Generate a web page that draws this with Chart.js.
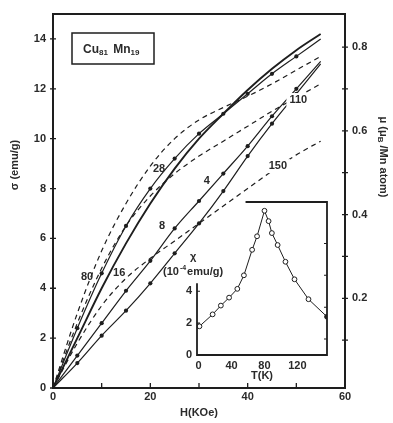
<!DOCTYPE html>
<html>
<head>
<meta charset="utf-8">
<script src="https://cdn.jsdelivr.net/npm/chart.js@4.4.0/dist/chart.umd.min.js"></script>
<style>
  html, body { margin: 0; padding: 0; background: #ffffff; }
  #wrap { position: relative; width: 393px; height: 423px; background: #ffffff; }
  #main { position: absolute; left: 0; top: 0; }
  #inset { position: absolute; left: 150px; top: 180px; }
</style>
</head>
<body>
<div id="wrap">
  <canvas id="main" width="393" height="423"></canvas>
  <canvas id="inset" width="200" height="210"></canvas>
</div>
<script>
// Magnetisation of Cu81Mn19 versus applied field, one curve per temperature
const fieldKOe   = [0, 5, 10, 15, 20, 25, 30, 35, 40, 45, 50, 55];
const sigma4K    = [0, 1.0, 2.1, 3.1, 4.2, 5.4, 6.6, 7.9, 9.3, 10.6, 11.8, 13.0];
const sigma8K    = [0, 1.3, 2.6, 3.9, 5.1, 6.4, 7.5, 8.6, 9.7, 10.9, 12.0, 13.1];
const sigma16K   = [0, 2.0, 4.0, 5.8, 7.4, 8.8, 10.0, 11.0, 11.95, 12.8, 13.55, 14.2];
const sigma28K   = [0, 2.4, 4.6, 6.5, 8.0, 9.2, 10.2, 11.0, 11.8, 12.6, 13.3, 14.0];
const sigma80K   = [0, 3.0, 5.5, 7.4, 8.9, 10.0, 10.75, 11.25, 11.7, 12.2, 12.75, 13.3];
const sigma110K  = [0, 2.6, 4.8, 6.5, 7.7, 8.6, 9.3, 9.9, 10.5, 11.1, 11.65, 12.2];
const sigma150K  = [0, 1.8, 3.3, 4.4, 5.2, 5.9, 6.6, 7.3, 8.0, 8.7, 9.35, 9.9];

// Low-field susceptibility versus temperature (inset)
const tempK      = [1, 17, 27, 37, 47, 55, 65, 71, 80, 85, 89, 96, 105.5, 116.5, 133.5, 156];
const chiValues  = [1.8, 2.55, 3.1, 3.6, 4.15, 5.0, 6.6, 7.45, 9.05, 8.4, 7.65, 6.9, 5.85, 4.75, 3.5, 2.4];

// Tick values and labels
const fieldTicks      = [0, 10, 20, 30, 40, 50, 60];
const fieldTickLabels = [0, 20, 40, 60];
const sigmaTicks      = [0, 2, 4, 6, 8, 10, 12, 14];
const momentTicks     = [0.1, 0.2, 0.3, 0.4, 0.5, 0.6, 0.7, 0.8];
const momentLabels    = [0.2, 0.4, 0.6, 0.8];
const insetTempTicks  = [0, 40, 80, 120];
const insetChiTicks   = [0, 2, 4];

// Temperature tags written next to (or across) the curves, in field kOe / sigma emu/g
const curveTags = [
  { text: '80',  h: 7.0,  s: 4.45, knockout: false },
  { text: '16',  h: 13.6, s: 4.6,  knockout: false },
  { text: '28',  h: 21.8, s: 8.8,  knockout: false },
  { text: '8',   h: 22.4, s: 6.5,  knockout: false },
  { text: '4',   h: 31.6, s: 8.3,  knockout: false },
  { text: '110', h: 50.4, s: 11.55, knockout: true },
  { text: '150', h: 46.2, s: 8.9,  knockout: true }
];

const INK = '#1e1e1e';
const TXT = '#2a2a2a';
const FONT = 'Liberation Sans, Arial, sans-serif';

function pts(values) { return fieldKOe.map((h, i) => ({ x: h, y: values[i] })); }

function curve(label, values, opts) {
  return {
    label,
    data: pts(values),
    borderColor: INK,
    backgroundColor: INK,
    borderWidth: opts.width || 1.2,
    borderDash: opts.dashed ? [5, 4] : [],
    cubicInterpolationMode: 'monotone',
    pointRadius: opts.dots ? (c => (c.dataIndex === 0 || c.dataIndex === fieldKOe.length - 1 ? 0 : 2.1)) : 0,
    pointBackgroundColor: INK,
    pointBorderWidth: 0,
    fill: false
  };
}

const mainDecor = {
  id: 'mainDecor',
  afterDatasetsDraw(chart) {
    const { ctx, scales } = chart;
    const xs = scales.x, ys = scales.y;
    ctx.save();
    ctx.font = 'bold 11px ' + FONT;
    ctx.textAlign = 'center';
    ctx.textBaseline = 'middle';
    curveTags.forEach(t => {
      const px = xs.getPixelForValue(t.h), py = ys.getPixelForValue(t.s);
      if (t.knockout) {
        const w = ctx.measureText(t.text).width + 6;
        ctx.fillStyle = '#ffffff';
        ctx.fillRect(px - w / 2, py - 7, w, 14);
      }
      ctx.fillStyle = TXT;
      ctx.fillText(t.text, px, py);
    });
    ctx.restore();
  },
  afterDraw(chart) {
    const { ctx, chartArea: a, scales } = chart;
    const xs = scales.x, ys = scales.y, yr = scales.y1;
    ctx.save();
    ctx.strokeStyle = INK;
    ctx.lineWidth = 2;
    ctx.strokeRect(a.left, a.top, a.right - a.left, a.bottom - a.top);

    ctx.lineWidth = 1.3;
    ctx.beginPath();
    xs.ticks.forEach(t => {
      const px = xs.getPixelForValue(t.value);
      ctx.moveTo(px, a.bottom); ctx.lineTo(px, a.bottom - 5);
    });
    ys.ticks.forEach(t => {
      const py = ys.getPixelForValue(t.value);
      ctx.moveTo(a.left - 3, py); ctx.lineTo(a.left + 3, py);
    });
    yr.ticks.forEach(t => {
      const py = yr.getPixelForValue(t.value);
      ctx.moveTo(a.right - 3, py); ctx.lineTo(a.right + 3, py);
    });
    ctx.stroke();

    ctx.fillStyle = TXT;
    ctx.textBaseline = 'middle';

    // axis titles
    ctx.save();
    ctx.translate(15, 165);
    ctx.rotate(-Math.PI / 2);
    ctx.textAlign = 'center';
    ctx.font = 'bold 11px ' + FONT;
    ctx.fillText('σ (emu/g)', 0, 0);
    ctx.restore();

    ctx.save();
    ctx.translate(383, 157);
    ctx.rotate(Math.PI / 2);
    ctx.textAlign = 'left';
    const parts = [['μ (μ', 0], ['B', 3], [' /Mn atom)', 0]];
    let total = 0;
    parts.forEach(p => { ctx.font = (p[1] ? 'bold 8px ' : 'bold 11px ') + FONT; total += ctx.measureText(p[0]).width; });
    let cx = -total / 2;
    parts.forEach(p => {
      ctx.font = (p[1] ? 'bold 8px ' : 'bold 11px ') + FONT;
      ctx.fillText(p[0], cx, p[1]);
      cx += ctx.measureText(p[0]).width;
    });
    ctx.restore();

    // alloy tag box
    ctx.lineWidth = 1.5;
    ctx.strokeRect(72, 33, 82, 31);
    const tag = [['Cu', 0], ['81', 3], [' Mn', 0], ['19', 3]];
    let tx = 83;
    tag.forEach(p => {
      ctx.font = (p[1] ? 'bold 8px ' : 'bold 12px ') + FONT;
      ctx.textAlign = 'left';
      ctx.fillText(p[0], tx, 50 + p[1]);
      tx += ctx.measureText(p[0]).width + (p[1] ? 2 : 0);
    });
    ctx.restore();
  }
};

const tickFont = { family: FONT, size: 11, weight: 'bold' };

new Chart(document.getElementById('main'), {
  type: 'line',
  data: {
    datasets: [
      curve('4 K', sigma4K, { dots: true }),
      curve('8 K', sigma8K, { dots: true }),
      curve('16 K', sigma16K, { width: 1.9 }),
      curve('28 K', sigma28K, { dots: true }),
      curve('80 K', sigma80K, { dashed: true }),
      curve('110 K', sigma110K, { dashed: true }),
      curve('150 K', sigma150K, { dashed: true })
    ]
  },
  options: {
    responsive: false,
    animation: false,
    layout: { padding: { top: 14 } },
    plugins: { legend: { display: false }, tooltip: { enabled: false } },
    scales: {
      x: {
        type: 'linear', position: 'bottom', min: 0, max: 60,
        afterBuildTicks: s => { s.ticks = fieldTicks.map(v => ({ value: v })); },
        afterFit: s => { s.height = 35; },
        grid: { display: false, drawTicks: false },
        border: { display: false },
        ticks: {
          padding: 2, color: TXT, font: tickFont, maxRotation: 0, autoSkip: false,
          callback: v => (fieldTickLabels.includes(v) ? String(v) : '')
        },
        title: { display: true, text: 'H(KOe)', color: TXT, font: tickFont, padding: { top: 0, bottom: 3 } }
      },
      y: {
        type: 'linear', position: 'left', min: 0, max: 15,
        afterBuildTicks: s => { s.ticks = sigmaTicks.map(v => ({ value: v })); },
        afterFit: s => { s.width = 53; },
        grid: { display: false, drawTicks: false },
        border: { display: false },
        ticks: { padding: 7, color: TXT, font: tickFont, autoSkip: false }
      },
      y1: {
        type: 'linear', position: 'right', min: -0.0143, max: 0.879,
        afterBuildTicks: s => { s.ticks = momentTicks.map(v => ({ value: v })); },
        afterFit: s => { s.width = 48; },
        grid: { display: false, drawTicks: false },
        border: { display: false },
        ticks: {
          padding: 7, color: TXT, font: tickFont, autoSkip: false,
          callback: v => (momentLabels.includes(v) ? v.toFixed(1) : '')
        }
      }
    }
  },
  plugins: [mainDecor]
});

const insetDecor = {
  id: 'insetDecor',
  afterDraw(chart) {
    const { ctx, chartArea: a, scales } = chart;
    const xs = scales.x, ys = scales.y;
    ctx.save();
    ctx.strokeStyle = INK;
    ctx.lineWidth = 1.8;
    ctx.beginPath();
    // open frame: left axis stops below the axis caption
    ctx.moveTo(a.left, ys.getPixelForValue(4.5));
    ctx.lineTo(a.left, a.bottom);
    ctx.lineTo(a.right, a.bottom);
    ctx.lineTo(a.right, a.top);
    ctx.lineTo(xs.getPixelForValue(57), a.top);
    ctx.stroke();

    ctx.lineWidth = 1.1;
    ctx.beginPath();
    insetChiTicks.forEach(v => {
      const py = ys.getPixelForValue(v);
      ctx.moveTo(a.left, py); ctx.lineTo(a.left + 3, py);
    });
    [1, 3, 5, 7].forEach(v => {
      const py = ys.getPixelForValue(v);
      ctx.moveTo(a.right, py); ctx.lineTo(a.right - 3, py);
    });
    ctx.stroke();

    ctx.fillStyle = TXT;
    ctx.textBaseline = 'middle';
    ctx.textAlign = 'left';
    ctx.font = 'bold 11px ' + FONT;
    ctx.fillText('χ', a.left - 7, a.top + 55);
    let x0 = a.left - 34;
    const yl = a.top + 70;
    ctx.fillText('(10', x0, yl);
    x0 += ctx.measureText('(10').width + 1;
    ctx.font = 'bold 7px ' + FONT;
    ctx.fillText('-4', x0, yl - 4);
    x0 += ctx.measureText('-4').width + 1;
    ctx.font = 'bold 11px ' + FONT;
    ctx.fillText('emu/g)', x0, yl);
    ctx.restore();
  }
};

new Chart(document.getElementById('inset'), {
  type: 'line',
  data: {
    datasets: [{
      label: 'χ',
      data: tempK.map((t, i) => ({ x: t, y: chiValues[i] })),
      borderColor: INK,
      borderWidth: 1,
      tension: 0,
      pointRadius: 2.4,
      pointBorderWidth: 1,
      pointBorderColor: INK,
      pointBackgroundColor: c => (c.dataIndex === tempK.length - 1 ? INK : '#ffffff')
    }]
  },
  options: {
    responsive: false,
    animation: false,
    layout: { padding: { top: 22, right: 23 } },
    plugins: { legend: { display: false }, tooltip: { enabled: false } },
    scales: {
      x: {
        type: 'linear', min: -2, max: 156,
        afterBuildTicks: s => { s.ticks = insetTempTicks.map(v => ({ value: v })); },
        afterFit: s => { s.height = 35; },
        grid: { display: false, drawTicks: false },
        border: { display: false },
        ticks: { padding: 4, color: TXT, font: tickFont, maxRotation: 0, autoSkip: false },
        title: { display: true, text: 'T(K)', color: TXT, font: tickFont, padding: { top: 0, bottom: 7 } }
      },
      y: {
        type: 'linear', min: 0, max: 9.6,
        afterBuildTicks: s => { s.ticks = insetChiTicks.map(v => ({ value: v })); },
        afterFit: s => { s.width = 47; },
        grid: { display: false, drawTicks: false },
        border: { display: false },
        ticks: { padding: 5, color: TXT, font: tickFont, autoSkip: false }
      }
    }
  },
  plugins: [insetDecor]
});
</script>
</body>
</html>
